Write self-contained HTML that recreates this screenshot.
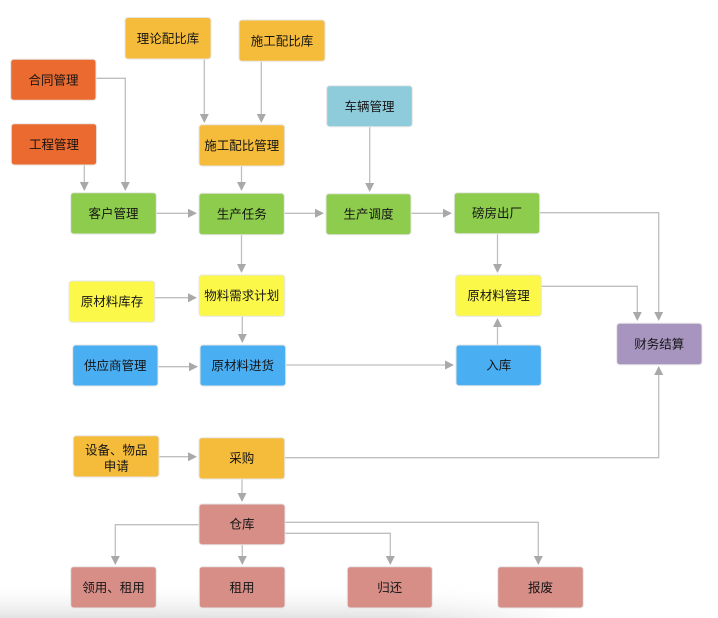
<!DOCTYPE html>
<html><head><meta charset="utf-8"><style>
html,body{margin:0;padding:0;background:#fff;}
svg{display:block;}
text{font-family:"Liberation Sans","Noto Sans CJK SC",sans-serif;font-size:12.5px;fill:#151515;text-anchor:middle;dominant-baseline:central;}
.b rect{stroke:#e6e6e6;stroke-width:1;}
.l{fill:none;stroke:#bfbfbf;stroke-width:1.3;}
.a{fill:#a9a9a9;}
</style></head><body>
<svg width="718" height="618" viewBox="0 0 718 618" xmlns="http://www.w3.org/2000/svg">
<defs>
<linearGradient id="gv" x1="0" y1="0" x2="0" y2="1"><stop offset="0" stop-color="#fff" stop-opacity="0"/><stop offset="1" stop-color="#e2e2e2"/></linearGradient>
<linearGradient id="gh" x1="0" y1="0" x2="1" y2="0"><stop offset="0" stop-color="#fff"/><stop offset="0.55" stop-color="#fff"/><stop offset="0.8" stop-color="#000"/></linearGradient>
<mask id="m"><rect x="0" y="580" width="718" height="38" fill="url(#gh)"/></mask>
</defs>
<rect x="0" y="582" width="718" height="36" fill="url(#gv)" mask="url(#m)"/>

<!-- connectors -->
<g class="l">
<polyline points="96,78.3 125.3,78.3 125.3,183"/>
<polyline points="84.3,165 84.3,183"/>
<polyline points="204.3,59 204.3,115"/>
<polyline points="261.3,61 261.3,115"/>
<polyline points="241.5,166 241.5,183"/>
<polyline points="156,213.3 189,213.3"/>
<polyline points="284,213.3 316,213.3"/>
<polyline points="369.7,127 369.7,184"/>
<polyline points="411,213.3 444,213.3"/>
<polyline points="539,212.7 658.7,212.7 658.7,313"/>
<polyline points="497.5,233 497.5,265"/>
<polyline points="541,286.3 637.3,286.3 637.3,313"/>
<polyline points="241.5,234 241.5,265"/>
<polyline points="155,297.7 189,297.7"/>
<polyline points="242.3,316 242.3,335"/>
<polyline points="158,366.7 190,366.7"/>
<polyline points="286,365 446,365"/>
<polyline points="497.5,345 497.5,326"/>
<polyline points="159,456.7 189,456.7"/>
<polyline points="285,457.7 658.7,457.7 658.7,374"/>
<polyline points="242,479 242,494"/>
<polyline points="199,524.7 115.3,524.7 115.3,557"/>
<polyline points="242.3,545 242.3,557"/>
<polyline points="285,533.3 390.3,533.3 390.3,557"/>
<polyline points="285,522.3 538.3,522.3 538.3,557"/>
</g>
<g class="a">
<!-- down arrows: tip at y -->
<polygon points="120.8,182 129.8,182 125.3,191"/>
<polygon points="79.8,182 88.8,182 84.3,191"/>
<polygon points="199.8,114 208.8,114 204.3,123"/>
<polygon points="256.8,114 265.8,114 261.3,123"/>
<polygon points="237,182 246,182 241.5,191"/>
<polygon points="365.2,183 374.2,183 369.7,192"/>
<polygon points="654.2,312 663.2,312 658.7,321"/>
<polygon points="493,264 502,264 497.5,273"/>
<polygon points="632.8,312 641.8,312 637.3,321"/>
<polygon points="237,264 246,264 241.5,273"/>
<polygon points="237.8,334 246.8,334 242.3,343"/>
<polygon points="237.5,493 246.5,493 242,502"/>
<polygon points="110.8,556 119.8,556 115.3,565"/>
<polygon points="237.8,556 246.8,556 242.3,565"/>
<polygon points="385.8,556 394.8,556 390.3,565"/>
<polygon points="533.8,556 542.8,556 538.3,565"/>
<!-- right arrows -->
<polygon points="188,208.8 188,217.8 197,213.3"/>
<polygon points="315,208.8 315,217.8 324,213.3"/>
<polygon points="443,208.8 443,217.8 452,213.3"/>
<polygon points="188,293.2 188,302.2 197,297.7"/>
<polygon points="189,362.2 189,371.2 198,366.7"/>
<polygon points="445,360.5 445,369.5 454,365"/>
<polygon points="188,452.2 188,461.2 197,456.7"/>
<!-- up arrows -->
<polygon points="493,327 502,327 497.5,318"/>
<polygon points="654.2,375 663.2,375 658.7,366"/>
</g>

<!-- boxes -->
<g class="b">
<rect x="125" y="17.5" width="86" height="41.5" rx="3" fill="#F5BC3C"/>
<rect x="239" y="20" width="86" height="41.3" rx="3" fill="#F5BC3C"/>
<rect x="10.7" y="59.3" width="85.3" height="41" rx="3" fill="#EA6A2F"/>
<rect x="11.3" y="123.7" width="85.3" height="41.3" rx="3" fill="#EA6A2F"/>
<rect x="326.7" y="85.7" width="85.6" height="41" rx="3" fill="#8ECCDB"/>
<rect x="199" y="124.7" width="85.7" height="41.3" rx="3" fill="#F5BC3C"/>
<rect x="70.7" y="192.7" width="85.6" height="41.3" rx="3" fill="#8DCC4C"/>
<rect x="199" y="193.3" width="85.3" height="41.4" rx="3" fill="#8DCC4C"/>
<rect x="326" y="193.7" width="85" height="41" rx="3" fill="#8DCC4C"/>
<rect x="454.3" y="192.7" width="85.4" height="41" rx="3" fill="#8DCC4C"/>
<rect x="69" y="281" width="85.7" height="41.3" rx="3" fill="#FCF84A"/>
<rect x="199" y="275" width="85.7" height="41.3" rx="3" fill="#FCF84A"/>
<rect x="455.7" y="275" width="85.6" height="41.3" rx="3" fill="#FCF84A"/>
<rect x="616.7" y="323.3" width="85.3" height="41.4" rx="3" fill="#A795BF"/>
<rect x="72.7" y="345" width="85.3" height="41" rx="3" fill="#49AEF2"/>
<rect x="200" y="345" width="85.7" height="41" rx="3" fill="#49AEF2"/>
<rect x="456" y="345" width="85.3" height="40.7" rx="3" fill="#49AEF2"/>
<rect x="73.3" y="435.7" width="85.7" height="41.3" rx="3" fill="#F5BC3C"/>
<rect x="199" y="437.7" width="85.7" height="41.3" rx="3" fill="#F5BC3C"/>
<rect x="199" y="504" width="86" height="40.7" rx="3" fill="#D68E87"/>
<rect x="70.7" y="566.7" width="85.6" height="41.3" rx="3" fill="#D68E87"/>
<rect x="199.3" y="566.7" width="85.7" height="41.3" rx="3" fill="#D68E87"/>
<rect x="347.3" y="566.7" width="85" height="41.3" rx="3" fill="#D68E87"/>
<rect x="497.7" y="566.7" width="85.6" height="41.3" rx="3" fill="#D68E87"/>
</g>

<!-- labels -->
<text x="168" y="39">理论配比库</text>
<text x="282" y="41.5">施工配比库</text>
<text x="53.5" y="80.5">合同管理</text>
<text x="54" y="145">工程管理</text>
<text x="369.5" y="107">车辆管理</text>
<text x="241.8" y="146">施工配比管理</text>
<text x="113.5" y="214">客户管理</text>
<text x="241.7" y="214.5">生产任务</text>
<text x="368.5" y="214.5">生产调度</text>
<text x="497" y="213.5">磅房出厂</text>
<text x="112" y="302">原材料库存</text>
<text x="241.8" y="296">物料需求计划</text>
<text x="498.5" y="296">原材料管理</text>
<text x="659.3" y="344.5">财务结算</text>
<text x="115.3" y="366">供应商管理</text>
<text x="242.8" y="366">原材料进货</text>
<text x="498.7" y="365.5">入库</text>
<text x="116.2" y="450.7">设备、物品</text>
<text x="116.2" y="466.7">申请</text>
<text x="241.8" y="458.5">采购</text>
<text x="242" y="524.5">仓库</text>
<text x="113.5" y="588">领用、租用</text>
<text x="242" y="588">租用</text>
<text x="389.8" y="588">归还</text>
<text x="540.5" y="588">报废</text>
</svg>
</body></html>
